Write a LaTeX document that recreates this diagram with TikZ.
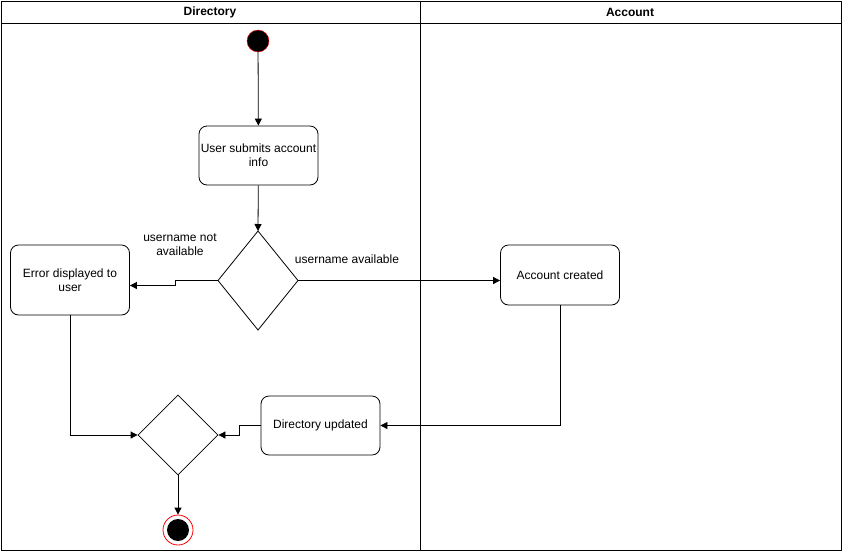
\documentclass[tikz,border=0pt]{standalone}
\usepackage{fontspec}
\setmainfont{Liberation Sans}
\usetikzlibrary{arrows.meta,shapes.geometric}
\begin{document}
\begin{tikzpicture}[x=1pt,y=-1pt,
  every node/.style={font=\fontsize{12}{14}\selectfont},
  actbox/.style={draw,line width=0.8pt,rounded corners=8pt,minimum width=119pt,minimum height=59pt,align=center,inner sep=0pt},
  flow/.style={-{Triangle[length=7pt,width=7pt]},line width=0.8pt},
  lbl/.style={align=center,font=\fontsize{12}{14}\selectfont}]
\useasboundingbox (0,0) rectangle (842,552);
% swimlanes
\draw[line width=0.8pt] (1,1) rectangle (841,550);
\draw[line width=0.8pt] (1,23) -- (841,23);
\draw[line width=0.8pt] (420,1) -- (420,550);
\node[font=\bfseries\fontsize{12}{14}\selectfont] (h1) at (210,12) {Directory};
\node[font=\bfseries\fontsize{12}{14}\selectfont] (h2) at (630,12) {Account};
% nodes
\node[circle,fill=black,draw=red,minimum size=22pt,inner sep=0pt] (start) at (258,41) {};
\node[actbox] (submit) at (258.5,155.5) {User submits account\\info};
\coordinate (d1l) at (218,280.5);
\coordinate (d1r) at (298,280.5);
\coordinate (d1t) at (258,231);
\coordinate (d1b) at (258,330);
\draw[line width=0.8pt] (d1t) -- (d1r) -- (d1b) -- (d1l) -- cycle;
\node[actbox,minimum height=70pt] (err) at (70,280) {Error displayed to\\user};
\node[actbox,minimum height=60pt] (acc) at (560,275) {Account created};
\node[actbox] (upd) at (320.5,425.5) {Directory updated};
\node[draw,line width=0.8pt,shape=diamond,minimum width=80pt,minimum height=80pt,inner sep=0pt] (d2) at (178,435) {};
\node[circle,draw=red,minimum size=30pt,inner sep=0pt,line width=0.8pt] (endo) at (178,530) {};
\node[circle,fill=black,minimum size=22pt,inner sep=0pt] (endi) at (178,530) {};
% edges
\draw[flow] (start) -- (submit);
\draw[flow] (submit) -- (d1t);
\draw[flow] (d1l) -- (175,280.5) -- (175,285.5) -- (err.east |- 0,285.5);
\draw[flow] (d1r) -- (acc.west |- d1r);
\draw[flow] (acc.south) |- (upd.east);
\draw[flow] (upd.west) -- (239,425.5) -- (239,435) -- (d2.east);
\draw[flow] (err.south) |- (d2.west);
\draw[flow] (d2.south) -- (endo.north);
% labels
\node[lbl] (l1) at (180,245) {username not\\available};
\node[lbl] (l2) at (347,259) {username available};
\end{tikzpicture}
\end{document}
